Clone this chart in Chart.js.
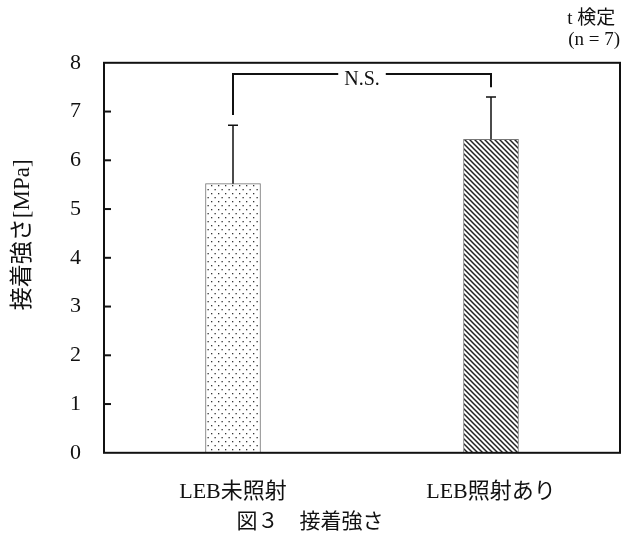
<!DOCTYPE html>
<html>
<head>
<meta charset="utf-8">
<script src="https://cdn.jsdelivr.net/npm/chart.js@4.4.1/dist/chart.umd.min.js"></script>
<style>
  html, body { margin: 0; padding: 0; background: #fff; }
  #wrap { width: 624px; height: 533px; }
</style>
</head>
<body>
<div id="wrap"><canvas id="sterkte" width="624" height="533"></canvas></div>
<script>
// data
const categories = ['LEB未照射', 'LEB照射あり'];
const meanValues = [5.52, 6.43];
const sdValues = [1.20, 0.87];
const yTickValues = [0, 1, 2, 3, 4, 5, 6, 7, 8];
// bracket: left end, top line, right end (MPa)
const bracketLevels = [6.93, 7.77, 7.50];
const bracketLabel = 'N.S.';
const noteLines = ['t 検定 ', '(n = 7)'];
const captionText = '図３　接着強さ';
const yTitle = '接着強さ[MPa]';

const serif = "'Liberation Serif', 'DejaVu Serif', 'Noto Sans CJK JP', serif";
const gothic = "'Noto Sans CJK JP', sans-serif";

function dotPattern() {
  const c = document.createElement('canvas');
  c.width = 7; c.height = 8;
  const g = c.getContext('2d');
  g.fillStyle = '#fff';
  g.fillRect(0, 0, 7, 8);
  g.fillStyle = '#333';
  g.fillRect(1, 1, 1.3, 1.3);
  g.fillRect(4.5, 5, 1.3, 1.3);
  return g.createPattern(c, 'repeat');
}

function hatchPattern() {
  const s = 5;
  const c = document.createElement('canvas');
  c.width = s; c.height = s;
  const g = c.getContext('2d');
  g.fillStyle = '#fff';
  g.fillRect(0, 0, s, s);
  g.strokeStyle = '#222';
  g.lineWidth = 1.5;
  g.beginPath();
  g.moveTo(-1, -1); g.lineTo(s + 1, s + 1);
  g.moveTo(-1, s - 1); g.lineTo(1, s + 1);
  g.moveTo(s - 1, -1); g.lineTo(s + 1, 1);
  g.stroke();
  return g.createPattern(c, 'repeat');
}

// frame + inner ticks + error bars + bracket + y title
const extras = {
  id: 'extras',
  afterDatasetsDraw(chart) {
    const ctx = chart.ctx;
    const a = chart.chartArea;
    const y = chart.scales.y;
    const bars = chart.getDatasetMeta(0).data;
    ctx.save();
    ctx.strokeStyle = '#111';
    ctx.fillStyle = '#111';
    ctx.lineCap = 'butt';

    // error bars (upper only)
    ctx.lineWidth = 1.5;
    bars.forEach((bar, i) => {
      const top = y.getPixelForValue(meanValues[i] + sdValues[i]);
      ctx.beginPath();
      ctx.moveTo(bar.x, bar.y);
      ctx.lineTo(bar.x, top);
      ctx.moveTo(bar.x - 5, top);
      ctx.lineTo(bar.x + 5, top);
      ctx.stroke();
    });

    // bracket
    const xl = bars[0].x, xr = bars[1].x;
    const yl = y.getPixelForValue(bracketLevels[0]);
    const yt = y.getPixelForValue(bracketLevels[1]);
    const yr = y.getPixelForValue(bracketLevels[2]);
    const xm = (xl + xr) / 2;
    ctx.font = '20px ' + serif;
    const half = ctx.measureText(bracketLabel).width / 2 + 6;
    ctx.lineWidth = 2;
    ctx.beginPath();
    ctx.moveTo(xl, yl);
    ctx.lineTo(xl, yt);
    ctx.lineTo(xm - half, yt);
    ctx.moveTo(xm + half, yt);
    ctx.lineTo(xr, yt);
    ctx.lineTo(xr, yr);
    ctx.stroke();
    ctx.textAlign = 'center';
    ctx.textBaseline = 'middle';
    ctx.fillText(bracketLabel, xm, yt + 6);

    // inner tick marks on the left axis
    ctx.lineWidth = 2;
    y.ticks.forEach(t => {
      if (t.value <= y.min || t.value >= y.max) return;
      const py = y.getPixelForValue(t.value);
      ctx.beginPath();
      ctx.moveTo(a.left, py);
      ctx.lineTo(a.left + 7, py);
      ctx.stroke();
    });

    // frame
    ctx.strokeRect(a.left, a.top, a.right - a.left, a.bottom - a.top);

    // y axis title, a little above the middle as in the original
    ctx.save();
    ctx.translate(y.left + 23, (a.top + a.bottom) / 2 - 23);
    ctx.rotate(-Math.PI / 2);
    ctx.font = '23px ' + serif;
    ctx.textAlign = 'center';
    ctx.textBaseline = 'middle';
    ctx.fillText(yTitle, 0, 0);
    ctx.restore();

    ctx.restore();
  }
};

const ctx = document.getElementById('sterkte').getContext('2d');
const chart = new Chart(ctx, {
  type: 'bar',
  data: {
    labels: categories,
    datasets: [{
      data: meanValues,
      backgroundColor: [dotPattern(), hatchPattern()],
      borderColor: '#777',
      borderWidth: 1,
      barThickness: 55,
    }]
  },
  options: {
    responsive: false,
    animation: false,
    layout: { padding: { left: 0, right: 4, top: 0, bottom: 0 } },
    plugins: {
      legend: { display: false },
      tooltip: { enabled: false },
      title: {
        display: true,
        text: noteLines,
        align: 'end',
        position: 'top',
        color: '#111',
        font: { family: serif, size: 19, weight: 'normal', lineHeight: 1.1 },
        padding: { top: 9, bottom: 12 }
      },
      subtitle: {
        display: true,
        text: captionText,
        position: 'bottom',
        color: '#111',
        font: { family: gothic, size: 21, weight: 'normal', lineHeight: 1.2 },
        padding: { top: 6, bottom: 0 }
      }
    },
    scales: {
      x: {
        afterFit: s => { s.height = 49; },
        grid: { display: false, drawTicks: false },
        border: { display: false },
        ticks: {
          color: '#111',
          padding: 26,
          font: { family: serif, size: 22 }
        }
      },
      y: {
        min: 0,
        max: 8,
        afterBuildTicks: s => { s.ticks = yTickValues.map(v => ({ value: v })); },
        afterFit: s => { s.width = 104; },
        grid: { display: false, drawTicks: false },
        border: { display: false },
        ticks: {
          color: '#111',
          padding: 23,
          font: { family: serif, size: 22 }
        }
      }
    }
  },
  plugins: [extras]
});
</script>
</body>
</html>
